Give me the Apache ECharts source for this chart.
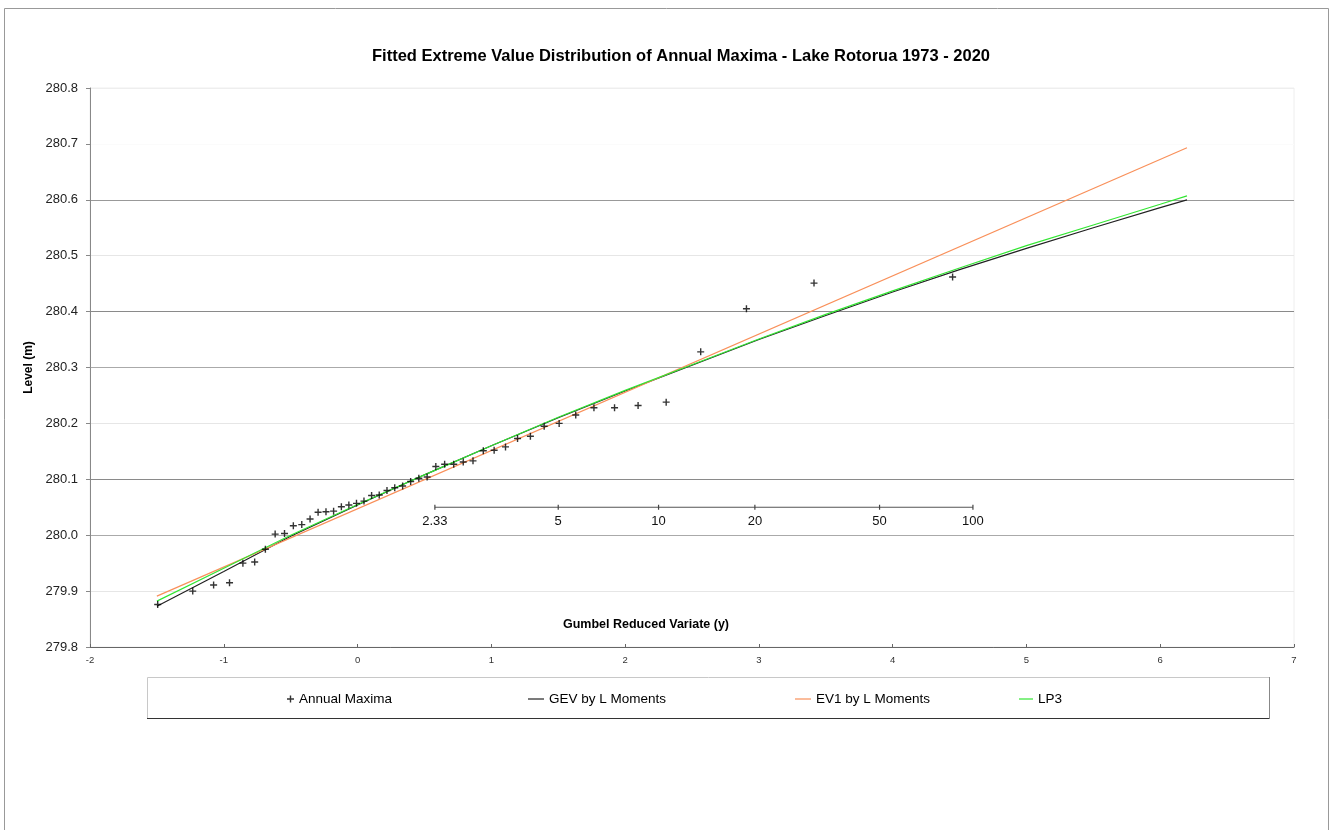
<!DOCTYPE html>
<html>
<head>
<meta charset="utf-8">
<script src="https://cdn.jsdelivr.net/npm/echarts@6/dist/echarts.min.js"></script>
<style>
html,body{margin:0;padding:0;background:#fff;}
#chart{width:1335px;height:830px;}
</style>
</head>
<body>
<div id="chart"></div>
<script>
// Annual maxima: Gumbel reduced variate (plotting position) and level (m)
const maximaY = [-1.494,-1.232,-1.076,-0.957,-0.857,-0.769,-0.689,-0.616,-0.546,-0.480,-0.417,-0.355,-0.295,-0.236,-0.179,-0.121,-0.065,-0.008,0.048,0.105,0.162,0.220,0.278,0.337,0.397,0.458,0.520,0.585,0.651,0.719,0.790,0.863,0.940,1.021,1.106,1.196,1.292,1.395,1.507,1.631,1.767,1.921,2.097,2.307,2.565,2.907,3.412,4.448];
const maximaLevel = [279.876,279.900,279.911,279.915,279.950,279.952,279.975,280.002,280.003,280.017,280.019,280.029,280.041,280.042,280.043,280.051,280.054,280.057,280.061,280.071,280.072,280.080,280.085,280.088,280.096,280.102,280.104,280.123,280.127,280.127,280.131,280.133,280.151,280.152,280.158,280.173,280.177,280.195,280.200,280.215,280.228,280.228,280.232,280.238,280.328,280.405,280.451,280.462];

// Fitted curves
const curveY = [-1.5,-1.0,-0.5,0.0,0.5,1.0,1.5,2.0,2.5,3.0,3.5,4.0,4.5,5.0,5.5,6.0,6.2];
const gevLevel = [279.873,279.935,279.998,280.054,280.108,280.160,280.210,280.258,280.304,280.350,280.393,280.435,280.475,280.513,280.550,280.586,280.600];
const lp3Level = [279.882,279.941,280.000,280.055,280.108,280.160,280.211,280.259,280.305,280.351,280.395,280.437,280.478,280.518,280.555,280.592,280.607];
const ev1Y = [-1.5, 6.2];
const ev1Level = [279.891, 280.693];

// Return period scale
const returnPeriodLabels = ['2.33','5','10','20','50','100'];
const returnPeriodY = [0.578,1.500,2.250,2.970,3.902,4.600];
const returnPeriodLevel = 280.05;

// Axis ticks
const xTicks = {min:-2, max:7, interval:1};
const yTicks = {min:279.8, max:280.8, interval:0.1};

const FONT = 'Liberation Sans, Arial, sans-serif';
const plusIcon = 'path://M4,0 H6 V4 H10 V6 H6 V10 H4 V6 H0 V4 H4 Z';

const pair = (xs, ys) => xs.map((x,i)=>[x, ys[i]]);

const legendText = {fontFamily:FONT, fontSize:13.5, color:'#000'};

const chart = echarts.init(document.getElementById('chart'));
chart.setOption({
  backgroundColor:'#fff',
  animation:false,
  textStyle:{fontFamily:FONT},
  title:{
    text:'Fitted Extreme Value Distribution of Annual Maxima - Lake Rotorua 1973 - 2020',
    left:676, top:43, textAlign:'center',
    textStyle:{fontFamily:FONT, fontSize:16.5, fontWeight:'bold', color:'#000'}
  },
  grid:{left:90, right:41, top:88, bottom:183, show:true, borderColor:'#eeeeee', borderWidth:1},
  xAxis:{
    type:'value', min:xTicks.min, max:xTicks.max, interval:xTicks.interval,
    axisLine:{show:true, onZero:false, lineStyle:{color:'#666', width:1}},
    axisTick:{show:true, inside:true, length:3, lineStyle:{color:'#666'}},
    splitLine:{show:false},
    axisLabel:{fontSize:9.5, color:'#333', margin:8, fontFamily:FONT}
  },
  yAxis:{
    type:'value', min:yTicks.min, max:yTicks.max, interval:yTicks.interval,
    name:'Level (m)', nameLocation:'middle', nameGap:54,
    nameTextStyle:{fontFamily:FONT, fontSize:12, fontWeight:'bold', color:'#000'},
    axisLine:{show:true, onZero:false, lineStyle:{color:'#888', width:1}},
    axisTick:{show:true, inside:false, length:4, lineStyle:{color:'#888'}},
    splitLine:{show:true, lineStyle:{width:1, color:['#cccccc','#e6e6e6','#aaaaaa','#8a8a8a','#e6e6e6','#aaaaaa','#8a8a8a','#e6e6e6','#999999','#fbfbfb','#eeeeee']}},
    axisLabel:{fontSize:13, color:'#222', margin:12, fontFamily:FONT, formatter:v=>v.toFixed(1)}
  },
  legend:[
    {data:[{name:'Annual Maxima', icon:plusIcon}], left:287, top:692, padding:0, itemWidth:7, itemHeight:7, textStyle:legendText},
    {data:[{name:'GEV by L Moments', icon:'rect'}], left:528, top:692, padding:0, itemWidth:16, itemHeight:1.2, textStyle:legendText},
    {data:[{name:'EV1 by L Moments', icon:'rect'}], left:795, top:692, padding:0, itemWidth:16, itemHeight:1.2, textStyle:legendText},
    {data:[{name:'LP3', icon:'rect'}], left:1019, top:692, padding:0, itemWidth:14, itemHeight:1.2, textStyle:legendText}
  ],
  graphic:[
    {type:'rect', shape:{x:4.5, y:8.5, width:1324, height:840}, style:{fill:'none', stroke:'#999', lineWidth:1}, silent:true, z:-10},
    {type:'rect', shape:{x:147.5, y:677.5, width:1122, height:41}, style:{fill:'none', stroke:'#c8c8c8', lineWidth:1}, silent:true, z:-5},
    {type:'line', shape:{x1:147, y1:718.5, x2:1270, y2:718.5}, style:{stroke:'#333', lineWidth:1.2}, silent:true, z:-4},
    {type:'line', shape:{x1:1269.5, y1:677, x2:1269.5, y2:719}, style:{stroke:'#888', lineWidth:1}, silent:true, z:-4},
    {type:'text', left:563, top:618, style:{text:'Gumbel Reduced Variate (y)', font:'bold 12.5px '+FONT, fill:'#000'}, silent:true}
  ],
  series:[
    {
      name:'Return period scale', type:'line', data:pair(returnPeriodY, returnPeriodY.map(()=>returnPeriodLevel)),
      symbol:'rect', symbolSize:[1.2,5], showSymbol:true,
      itemStyle:{color:'#444'}, lineStyle:{color:'#555', width:1.2},
      label:{show:true, position:'bottom', distance:5, fontFamily:FONT, fontSize:13, color:'#111',
        formatter:p=>returnPeriodLabels[p.dataIndex]},
      z:1, silent:true, legendHoverLink:false
    },
    {
      name:'Annual Maxima', type:'scatter', data:pair(maximaY, maximaLevel),
      symbol:plusIcon, symbolSize:7, itemStyle:{color:'#000'}, z:3
    },
    {
      name:'GEV by L Moments', type:'line', data:pair(curveY, gevLevel), symbol:'none', smooth:false,
      lineStyle:{color:'#222', width:1.2}, itemStyle:{color:'#222'}, z:2
    },
    {
      name:'EV1 by L Moments', type:'line', data:pair(ev1Y, ev1Level), symbol:'none',
      lineStyle:{color:'#f9905a', width:1.2}, itemStyle:{color:'#f9905a'}, z:2
    },
    {
      name:'LP3', type:'line', data:pair(curveY, lp3Level), symbol:'none',
      lineStyle:{color:'#33e633', width:1.2}, itemStyle:{color:'#33e633'}, z:2
    }
  ]
});
</script>
</body>
</html>
